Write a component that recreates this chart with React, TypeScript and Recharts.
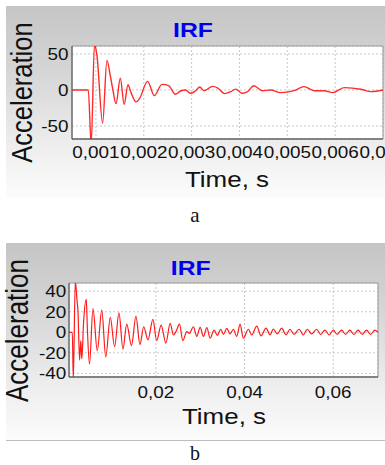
import React from 'react';
import { LineChart, Line, XAxis, YAxis, CartesianGrid, ReferenceArea } from 'recharts';

// ---- Panel a data ----
const A_TIME = [0.0005, 0.00084, 0.000901, 0.00097, 0.00102, 0.00114, 0.00123, 0.0013, 0.00135, 0.00142, 0.00151, 0.00159, 0.00167, 0.00173, 0.00184, 0.00191, 0.00208, 0.00222, 0.00238, 0.00252, 0.00266, 0.00277, 0.00287, 0.00298, 0.00308, 0.00317, 0.00326, 0.00344, 0.00354, 0.00369, 0.00382, 0.00392, 0.00406, 0.00417, 0.0043, 0.00448, 0.00465, 0.00486, 0.00514, 0.00535, 0.00556, 0.00577, 0.00595, 0.00619, 0.00654, 0.00675, 0.007];
const A_ACC = [0, 0, -75, 63, 49, -46, 41, 20, 2, -19, 16.5, -20, 7.3, -3, -16.5, -12, 12, -7.8, 7.8, 6, -6, -1.4, 0, -4.6, -1.4, 4.1, -1, 5, 3, -5, -2.3, 1.2, -4.6, -2.3, 5.8, -1, 0, -3.7, -1, 4.6, -1, -1, -3.7, 3.2, 1, -2.3, 0];
const A_XTICKS = [0.001, 0.002, 0.003, 0.004, 0.005, 0.006, 0.007];
const A_YTICKS = [-50, 0, 50];
const A_XDOMAIN = [0.0005, 0.007];
const A_YDOMAIN = [-68, 61];

// ---- Panel b data ----
const B_TIME = [0.0004, 0.00115, 0.00137, 0.00182, 0.00221, 0.00243, 0.00279, 0.00306, 0.00329, 0.00369, 0.0043, 0.00453, 0.00502, 0.00581, 0.00678, 0.00779, 0.00869, 0.00971, 0.01068, 0.01167, 0.01257, 0.01342, 0.0145, 0.0155, 0.0164, 0.01725, 0.01822, 0.01932, 0.02018, 0.02119, 0.02225, 0.02322, 0.02396, 0.02457, 0.02532, 0.02608, 0.02698, 0.02757, 0.02847, 0.02923, 0.02998, 0.03072, 0.03149, 0.03223, 0.03313, 0.03387, 0.03464, 0.03523, 0.03599, 0.03674, 0.03748, 0.03824, 0.03899, 0.03973, 0.04086, 0.04162, 0.04275, 0.04372, 0.04484, 0.04574, 0.04649, 0.04739, 0.04838, 0.04935, 0.05025, 0.05115, 0.05228, 0.05324, 0.05415, 0.05514, 0.05626, 0.05716, 0.05813, 0.0591, 0.06, 0.0609, 0.06189, 0.06279, 0.06376, 0.06466, 0.06563, 0.06653, 0.06752, 0.06842, 0.06939, 0.07007];
const B_ACC = [0, 0, -46, 50, 31, 20, -27, -8, -26, 10, 32, 5, -31, 23, -18, 21.5, -24, 14.5, -14, 19, -16.5, 8, -13, 15.7, -12, 5.4, -7.4, 12.6, -8, 7, -10.6, 8.7, -2.6, 1, 8, -8, 0.6, -1, 5.4, -4, 4.8, -4, 4.6, -5.8, 2.2, -3, 3, -2, 3.8, -1.6, 3, -4, 8, -5.8, 3, -2.6, 6, -3.5, 4, -2.6, 3.2, -1.6, 4, -2.6, 3, -2, 3, -2.6, 3, -1.6, 3, -2, 2.2, -2.6, 2.2, -2, 2.2, -2, 2.2, -2, 2.2, -2, 2.2, -2, 2.2, 0];
const B_XTICKS = [0.02, 0.04, 0.06];
const B_YTICKS = [-40, -20, 0, 20, 40];
const B_XDOMAIN = [0.0004, 0.0701];
const B_YDOMAIN = [-43.5, 48];

const TITLE = 'IRF';
const Y_LABEL = 'Acceleration';
const X_LABEL = 'Time, s';
const CAPTIONS = ['a', 'b'];

const dataA = A_TIME.map((t, i) => ({ t, v: A_ACC[i] }));
const dataB = B_TIME.map((t, i) => ({ t, v: B_ACC[i] }));

const SANS = '"Liberation Sans", Arial, sans-serif';
const SX = 1.18;

const makeXTick = (dec: number, dy: number) => (props: any) => {
  const { x, y, payload } = props;
  const label = Number(payload.value).toFixed(dec).replace('.', ',');
  return (
    <g transform={`translate(${x},${y})`}>
      <text transform={`scale(${SX},1)`} y={dy} textAnchor="middle" fontSize={16} fill="#111" fontFamily={SANS}>
        {label}
      </text>
    </g>
  );
};

const makeYTick = (gap: number) => (props: any) => {
  const { x, y, payload } = props;
  return (
    <g transform={`translate(${x - gap},${y})`}>
      <text transform={`scale(${SX},1)`} dy="0.36em" textAnchor="end" fontSize={16} fill="#111" fontFamily={SANS}>
        {String(payload.value)}
      </text>
    </g>
  );
};

const panelBg: React.CSSProperties = {
  position: 'absolute',
  left: 6,
  width: 379,
  background: 'linear-gradient(to bottom, #c5c5c5 0%, #d6d6d6 35%, #ececec 70%, #fcfcfc 100%)',
};

export default function App() {
  return (
    <div style={{ position: 'absolute', left: 0, top: 0, width: 385, height: 465, background: '#fff', overflow: 'hidden' }}>
      <div style={{ ...panelBg, top: 6, height: 192 }} />
      <div style={{ ...panelBg, top: 243, height: 197, borderBottom: '1px solid #bdbdbd' }} />

      <div style={{ position: 'absolute', left: 0, top: 0 }}>
        <LineChart width={385} height={200} data={dataA} margin={{ top: 46, right: 2, bottom: 0, left: 0 }}>
          <CartesianGrid fill="#ffffff" stroke="#c8c8c8" strokeDasharray="2 2" />
          <ReferenceArea x1={A_XDOMAIN[0]} x2={A_XDOMAIN[1]} y1={A_YDOMAIN[0]} y2={A_YDOMAIN[1]} fill="none" stroke="#999" strokeOpacity={1} ifOverflow="visible" />
          <XAxis type="number" dataKey="t" domain={A_XDOMAIN} ticks={A_XTICKS} interval={0} allowDataOverflow height={61} tickSize={0} tickMargin={0} tickLine={false} axisLine={{ stroke: '#444' }} tick={makeXTick(3, 19)} />
          <YAxis type="number" domain={A_YDOMAIN} ticks={A_YTICKS} interval={0} allowDataOverflow width={72} tickSize={0} tickMargin={0} tickLine={false} axisLine={{ stroke: '#555' }} tick={makeYTick(3.5)} />
          <Line type="monotone" dataKey="v" stroke="#ff2a2a" strokeWidth={1.4} dot={false} isAnimationActive={false} />
        </LineChart>
      </div>

      <div style={{ position: 'absolute', left: 0, top: 230 }}>
        <LineChart width={385} height={200} data={dataB} margin={{ top: 53, right: 7, bottom: 0, left: 0 }}>
          <CartesianGrid fill="#ffffff" stroke="#c8c8c8" strokeDasharray="2 2" />
          <ReferenceArea x1={B_XDOMAIN[0]} x2={B_XDOMAIN[1]} y1={B_YDOMAIN[0]} y2={B_YDOMAIN[1]} fill="none" stroke="#999" strokeOpacity={1} ifOverflow="visible" />
          <XAxis type="number" dataKey="t" domain={B_XDOMAIN} ticks={B_XTICKS} interval={0} allowDataOverflow height={53} tickSize={0} tickMargin={0} tickLine={false} axisLine={{ stroke: '#444' }} tick={makeXTick(2, 21)} />
          <YAxis type="number" domain={B_YDOMAIN} ticks={B_YTICKS} interval={0} allowDataOverflow width={69} tickSize={0} tickMargin={0} tickLine={false} axisLine={{ stroke: '#555' }} tick={makeYTick(2.7)} />
          <Line type="monotone" dataKey="v" stroke="#ff1a1a" strokeWidth={1.2} dot={false} isAnimationActive={false} />
        </LineChart>
      </div>

      <svg width={385} height={465} style={{ position: 'absolute', left: 0, top: 0, pointerEvents: 'none' }}>
        <g fontFamily={SANS}>
          <text transform={`translate(193,36.7) scale(${SX},1)`} textAnchor="middle" fontSize={21} fontWeight="bold" fill="#0000f0">{TITLE}</text>
          <text transform={`translate(190.7,275) scale(${SX},1)`} textAnchor="middle" fontSize={21} fontWeight="bold" fill="#0000f0">{TITLE}</text>
          <text transform={`translate(31.5,92.5) rotate(-90) scale(1,${SX})`} textAnchor="middle" fontSize={25.5} fill="#111">{Y_LABEL}</text>
          <text transform={`translate(28.3,330.5) rotate(-90) scale(1,${SX})`} textAnchor="middle" fontSize={26} fill="#111">{Y_LABEL}</text>
          <text transform={`translate(227,186.5) scale(${SX},1)`} textAnchor="middle" fontSize={22} fill="#111">{X_LABEL}</text>
          <text transform={`translate(224,424) scale(${SX},1)`} textAnchor="middle" fontSize={22} fill="#111">{X_LABEL}</text>
        </g>
        <g fontFamily='"Liberation Serif", "Times New Roman", serif' fill="#111">
          <text x={195} y={222} textAnchor="middle" fontSize={21}>{CAPTIONS[0]}</text>
          <text x={195} y={460} textAnchor="middle" fontSize={20}>{CAPTIONS[1]}</text>
        </g>
      </svg>
    </div>
  );
}
